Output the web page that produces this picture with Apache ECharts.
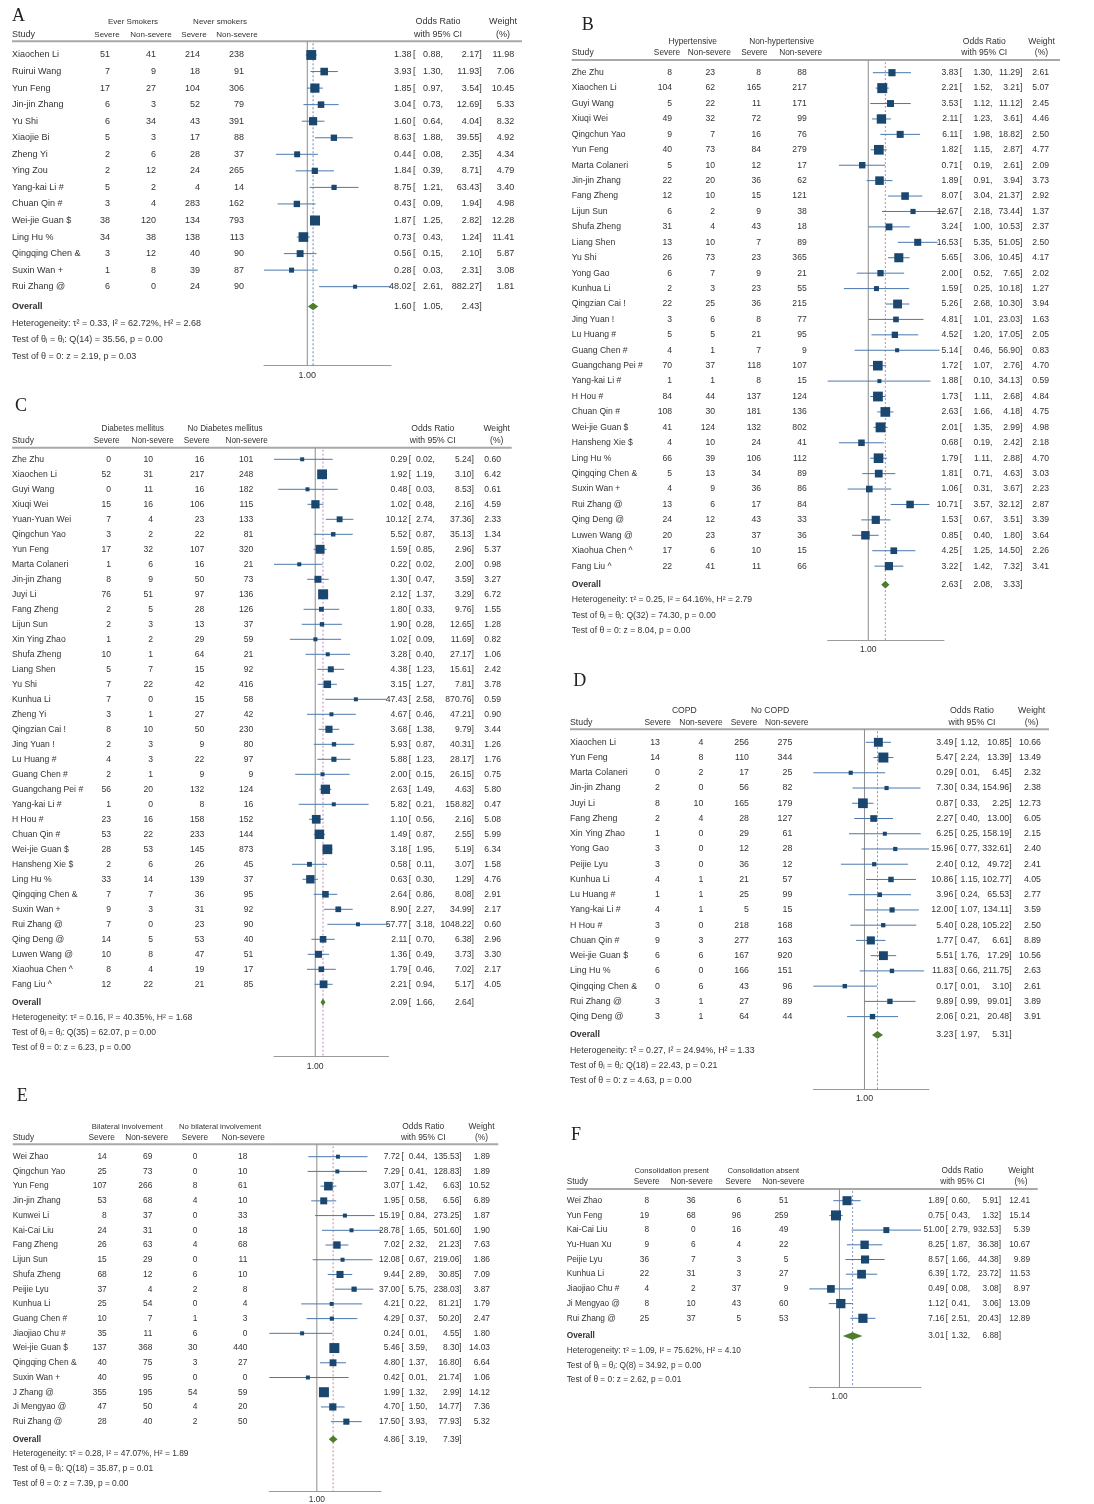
<!DOCTYPE html>
<html>
<head>
<meta charset="utf-8">
<script src="https://cdn.jsdelivr.net/npm/echarts@6/dist/echarts.min.js"></script>
<style>
  html, body { margin: 0; padding: 0; background: #ffffff; }
  #chart { width: 1094px; height: 1504px; }
</style>
</head>
<body>
<div id="chart"></div>
<script>
// ===================== Panel A: smoking =====================
const groupsA = ['Ever Smokers', 'Never smokers'];
const studiesA = ['Xiaochen Li', 'Ruirui Wang', 'Yun Feng', 'Jin-jin Zhang', 'Yu Shi', 'Xiaojie Bi', 'Zheng Yi', 'Ying Zou',
  'Yang-kai Li #', 'Chuan Qin #', 'Wei-jie Guan $', 'Ling Hu %', 'Qingqing Chen &', 'Suxin Wan +', 'Rui Zhang @'];
const sevExpA = [51, 7, 17, 6, 6, 5, 2, 2, 5, 3, 38, 34, 3, 1, 6];
const nonExpA = [41, 9, 27, 3, 34, 3, 6, 12, 2, 4, 120, 38, 12, 8, 0];
const sevUnA = [214, 18, 104, 52, 43, 17, 28, 24, 4, 283, 134, 138, 40, 39, 24];
const nonUnA = [238, 91, 306, 79, 391, 88, 37, 265, 14, 162, 793, 113, 90, 87, 90];
const orA = [1.38, 3.93, 1.85, 3.04, 1.60, 8.63, 0.44, 1.84, 8.75, 0.43, 1.87, 0.73, 0.56, 0.28, 48.02];
const loA = [0.88, 1.30, 0.97, 0.73, 0.64, 1.88, 0.08, 0.39, 1.21, 0.09, 1.25, 0.43, 0.15, 0.03, 2.61];
const hiA = [2.17, 11.93, 3.54, 12.69, 4.04, 39.55, 2.35, 8.71, 63.43, 1.94, 2.82, 1.24, 2.10, 2.31, 882.27];
const weightA = [11.98, 7.06, 10.45, 5.33, 8.32, 4.92, 4.34, 4.79, 3.40, 4.98, 12.28, 11.41, 5.87, 3.08, 1.81];
const overallA = [1.60, 1.05, 2.43];
const statsA = ['Heterogeneity: τ² = 0.33, I² = 62.72%, H² = 2.68', 'Test of θᵢ = θⱼ: Q(14) = 35.56, p = 0.00', 'Test of θ = 0: z = 2.19, p = 0.03'];

// ===================== Panel B: hypertension =====================
const groupsB = ['Hypertensive', 'Non-hypertensive'];
const studiesB = ['Zhe Zhu', 'Xiaochen Li', 'Guyi Wang', 'Xiuqi Wei', 'Qingchun Yao', 'Yun Feng', 'Marta Colaneri', 'Jin-jin Zhang',
  'Fang Zheng', 'Lijun Sun', 'Shufa Zheng', 'Liang Shen', 'Yu Shi', 'Yong Gao', 'Kunhua Li', 'Qingzian Cai !', 'Jing Yuan !',
  'Lu Huang #', 'Guang Chen #', 'Guangchang Pei #', 'Yang-kai Li #', 'H Hou #', 'Chuan Qin #', 'Wei-jie Guan $', 'Hansheng Xie $',
  'Ling Hu %', 'Qingqing Chen &', 'Suxin Wan +', 'Rui Zhang @', 'Qing Deng @', 'Luwen Wang @', 'Xiaohua Chen ^', 'Fang Liu ^'];
const sevExpB = [8, 104, 5, 49, 9, 40, 5, 22, 12, 6, 31, 13, 26, 6, 2, 22, 3, 5, 4, 70, 1, 84, 108, 41, 4, 66, 5, 4, 13, 24, 20, 17, 22];
const nonExpB = [23, 62, 22, 32, 7, 73, 10, 20, 10, 2, 4, 10, 73, 7, 3, 25, 6, 5, 1, 37, 1, 44, 30, 124, 10, 39, 13, 9, 6, 12, 23, 6, 41];
const sevUnB = [8, 165, 11, 72, 16, 84, 12, 36, 15, 9, 43, 7, 23, 9, 23, 36, 8, 21, 7, 118, 8, 137, 181, 132, 24, 106, 34, 36, 17, 43, 37, 10, 11];
const nonUnB = [88, 217, 171, 99, 76, 279, 17, 62, 121, 38, 18, 89, 365, 21, 55, 215, 77, 95, 9, 107, 15, 124, 136, 802, 41, 112, 89, 86, 84, 33, 36, 15, 66];
const orB = [3.83, 2.21, 3.53, 2.11, 6.11, 1.82, 0.71, 1.89, 8.07, 12.67, 3.24, 16.53, 5.65, 2.00, 1.59, 5.26, 4.81,
  4.52, 5.14, 1.72, 1.88, 1.73, 2.63, 2.01, 0.68, 1.79, 1.81, 1.06, 10.71, 1.53, 0.85, 4.25, 3.22];
const loB = [1.30, 1.52, 1.12, 1.23, 1.98, 1.15, 0.19, 0.91, 3.04, 2.18, 1.00, 5.35, 3.06, 0.52, 0.25, 2.68, 1.01,
  1.20, 0.46, 1.07, 0.10, 1.11, 1.66, 1.35, 0.19, 1.11, 0.71, 0.31, 3.57, 0.67, 0.40, 1.25, 1.42];
const hiB = [11.29, 3.21, 11.12, 3.61, 18.82, 2.87, 2.61, 3.94, 21.37, 73.44, 10.53, 51.05, 10.45, 7.65, 10.18, 10.30, 23.03,
  17.05, 56.90, 2.76, 34.13, 2.68, 4.18, 2.99, 2.42, 2.88, 4.63, 3.67, 32.12, 3.51, 1.80, 14.50, 7.32];
const weightB = [2.61, 5.07, 2.45, 4.46, 2.50, 4.77, 2.09, 3.73, 2.92, 1.37, 2.37, 2.50, 4.17, 2.02, 1.27, 3.94, 1.63,
  2.05, 0.83, 4.70, 0.59, 4.84, 4.75, 4.98, 2.18, 4.70, 3.03, 2.23, 2.87, 3.39, 3.64, 2.26, 3.41];
const overallB = [2.63, 2.08, 3.33];
const statsB = ['Heterogeneity: τ² = 0.25, I² = 64.16%, H² = 2.79', 'Test of θᵢ = θⱼ: Q(32) = 74.30, p = 0.00', 'Test of θ = 0: z = 8.04, p = 0.00'];

// ===================== Panel C: diabetes =====================
const groupsC = ['Diabetes mellitus', 'No Diabetes mellitus'];
const studiesC = ['Zhe Zhu', 'Xiaochen Li', 'Guyi Wang', 'Xiuqi Wei', 'Yuan-Yuan Wei', 'Qingchun Yao', 'Yun Feng', 'Marta Colaneri',
  'Jin-jin Zhang', 'Juyi Li', 'Fang Zheng', 'Lijun Sun', 'Xin Ying Zhao', 'Shufa Zheng', 'Liang Shen', 'Yu Shi', 'Kunhua Li',
  'Zheng Yi', 'Qingzian Cai !', 'Jing Yuan !', 'Lu Huang #', 'Guang Chen #', 'Guangchang Pei #', 'Yang-kai Li #', 'H Hou #',
  'Chuan Qin #', 'Wei-jie Guan $', 'Hansheng Xie $', 'Ling Hu %', 'Qingqing Chen &', 'Suxin Wan +', 'Rui Zhang @', 'Qing Deng @',
  'Luwen Wang @', 'Xiaohua Chen ^', 'Fang Liu ^'];
const sevExpC = [0, 52, 0, 15, 7, 3, 17, 1, 8, 76, 2, 2, 1, 10, 5, 7, 7, 3, 8, 2, 4, 2, 56, 1, 23, 53, 28, 2, 33, 7, 9, 7, 14, 10, 8, 12];
const nonExpC = [10, 31, 11, 16, 4, 2, 32, 6, 9, 51, 5, 3, 2, 1, 7, 22, 0, 1, 10, 3, 3, 1, 20, 0, 16, 22, 53, 6, 14, 7, 3, 0, 5, 8, 4, 22];
const sevUnC = [16, 217, 16, 106, 23, 22, 107, 16, 50, 97, 28, 13, 29, 64, 15, 42, 15, 27, 50, 9, 22, 9, 132, 8, 158, 233, 145, 26, 139, 36, 31, 23, 53, 47, 19, 21];
const nonUnC = [101, 248, 182, 115, 133, 81, 320, 21, 73, 136, 126, 37, 59, 21, 92, 416, 58, 42, 230, 80, 97, 9, 124, 16, 152, 144, 873, 45, 37, 95, 92, 90, 40, 51, 17, 85];
const orC = [0.29, 1.92, 0.48, 1.02, 10.12, 5.52, 1.59, 0.22, 1.30, 2.12, 1.80, 1.90, 1.02, 3.28, 4.38, 3.15, 47.43, 4.67,
  3.68, 5.93, 5.88, 2.00, 2.63, 5.82, 1.10, 1.49, 3.18, 0.58, 0.63, 2.64, 8.90, 57.77, 2.11, 1.36, 1.79, 2.21];
const loC = [0.02, 1.19, 0.03, 0.48, 2.74, 0.87, 0.85, 0.02, 0.47, 1.37, 0.33, 0.28, 0.09, 0.40, 1.23, 1.27, 2.58, 0.46,
  1.38, 0.87, 1.23, 0.15, 1.49, 0.21, 0.56, 0.87, 1.95, 0.11, 0.30, 0.86, 2.27, 3.18, 0.70, 0.49, 0.46, 0.94];
const hiC = [5.24, 3.10, 8.53, 2.16, 37.36, 35.13, 2.96, 2.00, 3.59, 3.29, 9.76, 12.65, 11.69, 27.17, 15.61, 7.81, 870.76, 47.21,
  9.79, 40.31, 28.17, 26.15, 4.63, 158.82, 2.16, 2.55, 5.19, 3.07, 1.29, 8.08, 34.99, 1048.22, 6.38, 3.73, 7.02, 5.17];
const weightC = [0.60, 6.42, 0.61, 4.59, 2.33, 1.34, 5.37, 0.98, 3.27, 6.72, 1.55, 1.28, 0.82, 1.06, 2.42, 3.78, 0.59, 0.90,
  3.44, 1.26, 1.76, 0.75, 5.80, 0.47, 5.08, 5.99, 6.34, 1.58, 4.76, 2.91, 2.17, 0.60, 2.96, 3.30, 2.17, 4.05];
const overallC = [2.09, 1.66, 2.64];
const statsC = ['Heterogeneity: τ² = 0.16, I² = 40.35%, H² = 1.68', 'Test of θᵢ = θⱼ: Q(35) = 62.07, p = 0.00', 'Test of θ = 0: z = 6.23, p = 0.00'];

// ===================== Panel D: COPD =====================
const groupsD = ['COPD', 'No COPD'];
const studiesD = ['Xiaochen Li', 'Yun Feng', 'Marta Colaneri', 'Jin-jin Zhang', 'Juyi Li', 'Fang Zheng', 'Xin Ying Zhao', 'Yong Gao',
  'Peijie Lyu', 'Kunhua Li', 'Lu Huang #', 'Yang-kai Li #', 'H Hou #', 'Chuan Qin #', 'Wei-jie Guan $', 'Ling Hu %',
  'Qingqing Chen &', 'Rui Zhang @', 'Qing Deng @'];
const sevExpD = [13, 14, 0, 2, 8, 2, 1, 3, 3, 4, 1, 4, 3, 9, 6, 6, 0, 3, 3];
const nonExpD = [4, 8, 2, 0, 10, 4, 0, 0, 0, 1, 1, 1, 0, 3, 6, 0, 6, 1, 1];
const sevUnD = [256, 110, 17, 56, 165, 28, 29, 12, 36, 21, 25, 5, 218, 277, 167, 166, 43, 27, 64];
const nonUnD = [275, 344, 25, 82, 179, 127, 61, 28, 12, 57, 99, 15, 168, 163, 920, 151, 96, 89, 44];
const orD = [3.49, 5.47, 0.29, 7.30, 0.87, 2.27, 6.25, 15.96, 2.40, 10.86, 3.96, 12.00, 5.40, 1.77, 5.51, 11.83, 0.17, 9.89, 2.06];
const loD = [1.12, 2.24, 0.01, 0.34, 0.33, 0.40, 0.25, 0.77, 0.12, 1.15, 0.24, 1.07, 0.28, 0.47, 1.76, 0.66, 0.01, 0.99, 0.21];
const hiD = [10.85, 13.39, 6.45, 154.96, 2.25, 13.00, 158.19, 332.61, 49.72, 102.77, 65.53, 134.11, 105.22, 6.61, 17.29, 211.75, 3.10, 99.01, 20.48];
const weightD = [10.66, 13.49, 2.32, 2.38, 12.73, 6.05, 2.15, 2.40, 2.41, 4.05, 2.77, 3.59, 2.50, 8.89, 10.56, 2.63, 2.61, 3.89, 3.91];
const overallD = [3.23, 1.97, 5.31];
const statsD = ['Heterogeneity: τ² = 0.27, I² = 24.94%, H² = 1.33', 'Test of θᵢ = θⱼ: Q(18) = 22.43, p = 0.21', 'Test of θ = 0: z = 4.63, p = 0.00'];

// ===================== Panel E: bilateral involvement =====================
const groupsE = ['Bilateral involvement', 'No bilateral involvement'];
const studiesE = ['Wei Zhao', 'Qingchun Yao', 'Yun Feng', 'Jin-jin Zhang', 'Kunwei Li', 'Kai-Cai Liu', 'Fang Zheng', 'Lijun Sun',
  'Shufa Zheng', 'Peijie Lyu', 'Kunhua Li', 'Guang Chen #', 'Jiaojiao Chu #', 'Wei-jie Guan $', 'Qingqing Chen &', 'Suxin Wan +',
  'J Zhang @', 'Ji Mengyao @', 'Rui Zhang @'];
const sevExpE = [14, 25, 107, 53, 8, 24, 26, 15, 68, 37, 25, 10, 35, 137, 40, 40, 355, 47, 28];
const nonExpE = [69, 73, 266, 68, 37, 31, 63, 29, 12, 4, 54, 7, 11, 368, 75, 95, 195, 50, 40];
const sevUnE = [0, 0, 8, 4, 0, 0, 4, 0, 6, 2, 0, 1, 6, 30, 3, 0, 54, 4, 2];
const nonUnE = [18, 10, 61, 10, 33, 18, 68, 11, 10, 8, 4, 3, 0, 440, 27, 0, 59, 20, 50];
const orE = [7.72, 7.29, 3.07, 1.95, 15.19, 28.78, 7.02, 12.08, 9.44, 37.00, 4.21, 4.29, 0.24, 5.46, 4.80, 0.42, 1.99, 4.70, 17.50];
const loE = [0.44, 0.41, 1.42, 0.58, 0.84, 1.65, 2.32, 0.67, 2.89, 5.75, 0.22, 0.37, 0.01, 3.59, 1.37, 0.01, 1.32, 1.50, 3.93];
const hiE = [135.53, 128.83, 6.63, 6.56, 273.25, 501.60, 21.23, 219.06, 30.85, 238.03, 81.21, 50.20, 4.55, 8.30, 16.80, 21.74, 2.99, 14.77, 77.93];
const weightE = [1.89, 1.89, 10.52, 6.89, 1.87, 1.90, 7.63, 1.86, 7.09, 3.87, 1.79, 2.47, 1.80, 14.03, 6.64, 1.06, 14.12, 7.36, 5.32];
const overallE = [4.86, 3.19, 7.39];
const statsE = ['Heterogeneity: τ² = 0.28, I² = 47.07%, H² = 1.89', 'Test of θᵢ = θⱼ: Q(18) = 35.87, p = 0.01', 'Test of θ = 0: z = 7.39, p = 0.00'];

// ===================== Panel F: consolidation =====================
const groupsF = ['Consolidation present', 'Consolidation absent'];
const studiesF = ['Wei Zhao', 'Yun Feng', 'Kai-Cai Liu', 'Yu-Huan Xu', 'Peijie Lyu', 'Kunhua Li', 'Jiaojiao Chu #', 'Ji Mengyao @', 'Rui Zhang @'];
const sevExpF = [8, 19, 8, 9, 36, 22, 4, 8, 25];
const nonExpF = [36, 68, 0, 6, 7, 31, 2, 10, 37];
const sevUnF = [6, 96, 16, 4, 3, 3, 37, 43, 5];
const nonUnF = [51, 259, 49, 22, 5, 27, 9, 60, 53];
const orF = [1.89, 0.75, 51.00, 8.25, 8.57, 6.39, 0.49, 1.12, 7.16];
const loF = [0.60, 0.43, 2.79, 1.87, 1.66, 1.72, 0.08, 0.41, 2.51];
const hiF = [5.91, 1.32, 932.53, 36.38, 44.38, 23.72, 3.08, 3.06, 20.43];
const weightF = [12.41, 15.14, 5.39, 10.67, 9.89, 11.53, 8.97, 13.09, 12.89];
const overallF = [3.01, 1.32, 6.88];
const statsF = ['Heterogeneity: τ² = 1.09, I² = 75.62%, H² = 4.10', 'Test of θᵢ = θⱼ: Q(8) = 34.92, p = 0.00', 'Test of θ = 0: z = 2.62, p = 0.01'];

// ===================== page layout (pixels) =====================
const layoutA = { fs: 9, gfs: 8, sfs: 8, letterX: 12, letterY: 16, studyX: 12, h1Y: 21.3, h2Y: 34.7,
  grpX: [133, 220], subX: [107, 151, 194, 237], orHeadX: 438, wtHeadX: 503, ruleY: 41.3, ruleX2: 522,
  colX: [110, 156, 200, 244], orX: 411.5, loX: 443, hiX: 481.7, wtX: 514.3,
  y0: 55, dy: 16.55, axisY: 365.7, plotL: 264, plotR: 391, dash: '#5f86cc' };
const layoutB = { fs: 8.6, gfs: 8.3, sfs: 8.3, letterX: 581.7, letterY: 25, studyX: 571.7, h1Y: 41.7, h2Y: 52.3,
  grpX: [692.7, 781.7], subX: [667, 709.3, 754.3, 800.7], orHeadX: 984.3, wtHeadX: 1041.5, ruleY: 60, ruleX2: 1060,
  colX: [672, 715, 761, 806.7], orX: 958.3, loX: 992.5, hiX: 1022.3, wtX: 1049,
  y0: 72.7, dy: 15.42, axisY: 640, plotL: 827.7, plotR: 944, dash: '#c98aa6' };
const layoutC = { fs: 8.6, gfs: 8.2, sfs: 8.2, letterX: 15, letterY: 406.3, studyX: 12, h1Y: 429, h2Y: 441,
  grpX: [132.7, 225], subX: [106.7, 152.7, 196.7, 246.7], orHeadX: 432.7, wtHeadX: 496.7, ruleY: 447.7, ruleX2: 511.7,
  colX: [111, 153, 204.3, 253.3], orX: 407.3, loX: 435, hiX: 474, wtX: 501,
  y0: 459.3, dy: 15.0, axisY: 1056.7, plotL: 274, plotR: 388.5, dash: '#c088c0' };
const layoutD = { fs: 8.8, gfs: 8.6, sfs: 8.4, letterX: 573.3, letterY: 681.7, studyX: 570, h1Y: 710.7, h2Y: 722.3,
  grpX: [684.3, 770], subX: [657.7, 701, 744, 786.7], orHeadX: 972, wtHeadX: 1031.7, ruleY: 729.3, ruleX2: 1049,
  colX: [660, 703.3, 749, 792.3], orX: 953.3, loX: 980, hiX: 1011.7, wtX: 1041,
  y0: 742.3, dy: 15.24, axisY: 1089, plotL: 813.3, plotR: 929, dash: '#8095c8' };
const layoutE = { fs: 8.4, gfs: 7.7, sfs: 8.3, letterX: 16.7, letterY: 1096, studyX: 12.7, h1Y: 1126.7, h2Y: 1137.3,
  grpX: [127.3, 220], subX: [101.7, 146.7, 195, 243.3], orHeadX: 423.3, wtHeadX: 481.5, ruleY: 1144.3, ruleX2: 498.3,
  colX: [106.7, 152.3, 197.3, 247.3], orX: 400, loX: 427.3, hiX: 461.7, wtX: 490,
  y0: 1156.7, dy: 14.72, axisY: 1491, plotL: 269.3, plotR: 381, dash: '#c98aa6' };
const layoutF = { fs: 8.3, gfs: 7.7, sfs: 8.2, letterX: 571, letterY: 1135.5, studyX: 566.7, h1Y: 1170.7, h2Y: 1181.7,
  grpX: [671.7, 763.3], subX: [646.7, 691.7, 738.3, 783.3], orHeadX: 962.3, wtHeadX: 1021, ruleY: 1189, ruleX2: 1037.7,
  colX: [649, 695.7, 741, 788.3], orX: 944.3, loX: 970, hiX: 1001, wtX: 1030,
  y0: 1200.7, dy: 14.7, axisY: 1387.3, plotL: 809.3, plotR: 921, dash: '#8a9ac4' };

const OVERALL_GAP = 0.2;   // extra row spacing before the pooled estimate
const TEXT = '#333333';
const NAVY = '#1a476f';
const CI_LINE = '#4a78ad';
const GREEN = '#4f7d2c';
const REF_LINE = '#8c8c8c';
const RULE = '#a8a8a8';
const SANS = '"Liberation Sans", Arial, "DejaVu Sans", sans-serif';
const SERIF = '"Liberation Serif", "DejaVu Serif", serif';

const panels = [
  { key: 'A', groups: groupsA, studies: studiesA, counts: [sevExpA, nonExpA, sevUnA, nonUnA], or: orA, lo: loA, hi: hiA, weight: weightA, overall: overallA, stats: statsA, layout: layoutA },
  { key: 'B', groups: groupsB, studies: studiesB, counts: [sevExpB, nonExpB, sevUnB, nonUnB], or: orB, lo: loB, hi: hiB, weight: weightB, overall: overallB, stats: statsB, layout: layoutB },
  { key: 'C', groups: groupsC, studies: studiesC, counts: [sevExpC, nonExpC, sevUnC, nonUnC], or: orC, lo: loC, hi: hiC, weight: weightC, overall: overallC, stats: statsC, layout: layoutC },
  { key: 'D', groups: groupsD, studies: studiesD, counts: [sevExpD, nonExpD, sevUnD, nonUnD], or: orD, lo: loD, hi: hiD, weight: weightD, overall: overallD, stats: statsD, layout: layoutD },
  { key: 'E', groups: groupsE, studies: studiesE, counts: [sevExpE, nonExpE, sevUnE, nonUnE], or: orE, lo: loE, hi: hiE, weight: weightE, overall: overallE, stats: statsE, layout: layoutE },
  { key: 'F', groups: groupsF, studies: studiesF, counts: [sevExpF, nonExpF, sevUnF, nonUnF], or: orF, lo: loF, hi: hiF, weight: weightF, overall: overallF, stats: statsF, layout: layoutF }
];

function font(size, bold) {
  return (bold ? 'bold ' : '') + size + 'px ' + SANS;
}

function textEl(s, x, y, align, size, bold, z2) {
  return {
    type: 'text', z2: z2 || 20,
    style: {
      text: s, x: x, y: y, fill: TEXT, font: font(size, bold),
      align: align, textAlign: align, verticalAlign: 'middle', textVerticalAlign: 'middle'
    }
  };
}

// one custom renderer per panel: table row text, CI whisker, weighted square, pooled diamond
function makeRenderer(p) {
  const L = p.layout;
  const n = p.studies.length;
  const wmax = Math.max.apply(null, p.weight);
  function ciCells(out, o, lo, hi, y) {
    out.push(textEl(o.toFixed(2), L.orX, y, 'right', L.fs));
    out.push(textEl('[', L.orX + 1.5, y, 'left', L.fs));
    out.push(textEl(lo.toFixed(2) + ',', L.loX, y, 'right', L.fs));
    out.push(textEl(hi.toFixed(2) + ']', L.hiX, y, 'right', L.fs));
  }
  return function (params, api) {
    const i = params.dataIndex;
    const row = api.value(1);
    const c = api.coord([api.value(0), row]);
    const a = api.coord([api.value(2), row]);
    const b = api.coord([api.value(3), row]);
    const y = c[1];
    const ch = [];
    if (i < n) {
      ch.push(textEl(p.studies[i], L.studyX, y, 'left', L.fs));
      p.counts.forEach(function (col, k) {
        ch.push(textEl(String(col[i]), L.colX[k], y, 'right', L.fs));
      });
      ch.push({ type: 'line', z2: 5, shape: { x1: a[0], y1: y, x2: b[0], y2: y }, style: { stroke: CI_LINE, lineWidth: 1 } });
      const side = Math.max(4, 10 * Math.sqrt(p.weight[i] / wmax));
      ch.push({ type: 'rect', z2: 10, shape: { x: c[0] - side / 2, y: y - side / 2, width: side, height: side }, style: { fill: NAVY } });
      ciCells(ch, p.or[i], p.lo[i], p.hi[i], y);
      ch.push(textEl(p.weight[i].toFixed(2), L.wtX, y, 'right', L.fs));
    } else {
      const cs = params.coordSys;
      const one = api.coord([1, row])[0];
      ch.push({ type: 'line', z2: 1, shape: { x1: one, y1: cs.y, x2: one, y2: cs.y + cs.height }, style: { stroke: REF_LINE, lineWidth: 1 } });
      ch.push({ type: 'line', z2: 2, shape: { x1: c[0], y1: cs.y + 2, x2: c[0], y2: cs.y + cs.height }, style: { stroke: L.dash, lineWidth: 1, lineDash: [2, 2] } });
      ch.push({ type: 'polygon', z2: 12, shape: { points: [[a[0], y], [c[0], y - 3.8], [b[0], y], [c[0], y + 3.8]] }, style: { fill: GREEN } });
      ch.push(textEl('Overall', L.studyX, y, 'left', L.fs, true));
      ciCells(ch, p.overall[0], p.overall[1], p.overall[2], y);
      p.stats.forEach(function (s, k) {
        ch.push(textEl(s, L.studyX, api.coord([1, row + k + 1])[1], 'left', L.fs));
      });
    }
    return { type: 'group', children: ch };
  };
}

const grids = [], xAxes = [], yAxes = [], series = [], graphics = [];

panels.forEach(function (p, k) {
  const L = p.layout;
  const n = p.studies.length;
  grids.push({ left: L.plotL, width: L.plotR - L.plotL, top: L.ruleY, height: L.axisY - L.ruleY, containLabel: false });
  xAxes.push({
    type: 'log', logBase: 10, gridIndex: k, position: 'bottom',
    min: Math.min.apply(null, p.lo), max: Math.max.apply(null, p.hi),
    axisLine: { show: true, onZero: false, lineStyle: { color: '#9a9a9a', width: 1 } },
    axisTick: { show: false },
    splitLine: { show: false },
    axisLabel: {
      margin: 5, fontSize: L.fs, color: TEXT, fontFamily: SANS,
      formatter: function (v) { return Math.abs(v - 1) < 1e-6 ? '1.00' : ''; }
    }
  });
  yAxes.push({
    type: 'value', gridIndex: k, inverse: true, show: false,
    min: (L.ruleY - L.y0) / L.dy, max: (L.axisY - L.y0) / L.dy
  });
  const rows = p.or.map(function (o, i) { return [o, i, p.lo[i], p.hi[i]]; });
  rows.push([p.overall[0], n + OVERALL_GAP, p.overall[1], p.overall[2]]);
  series.push({
    type: 'custom', xAxisIndex: k, yAxisIndex: k, silent: true,
    encode: { x: [0, 2, 3], y: 1 },
    data: rows,
    renderItem: makeRenderer(p)
  });

  // panel letter, column headers and header rule
  graphics.push({ type: 'text', x: L.letterX, y: L.letterY,
    style: { text: p.key, font: '18px ' + SERIF, fill: '#222', align: 'left', textAlign: 'left', verticalAlign: 'middle', textVerticalAlign: 'middle' } });
  function hText(s, x, y, align, size) {
    graphics.push({ type: 'text', x: x, y: y,
      style: { text: s, font: font(size), fill: TEXT, align: align, textAlign: align, verticalAlign: 'middle', textVerticalAlign: 'middle' } });
  }
  hText(p.groups[0], L.grpX[0], L.h1Y, 'center', L.gfs);
  hText(p.groups[1], L.grpX[1], L.h1Y, 'center', L.gfs);
  hText('Odds Ratio', L.orHeadX, L.h1Y, 'center', L.fs);
  hText('Weight', L.wtHeadX, L.h1Y, 'center', L.fs);
  hText('Study', L.studyX, L.h2Y, 'left', L.fs);
  ['Severe', 'Non-severe', 'Severe', 'Non-severe'].forEach(function (s, j) { hText(s, L.subX[j], L.h2Y, 'center', L.sfs); });
  hText('with 95% CI', L.orHeadX, L.h2Y, 'center', L.fs);
  hText('(%)', L.wtHeadX, L.h2Y, 'center', L.fs);
  graphics.push({ type: 'line', shape: { x1: L.studyX, y1: L.ruleY, x2: L.ruleX2, y2: L.ruleY }, style: { stroke: RULE, lineWidth: 2 } });
});

const chart = echarts.init(document.getElementById('chart'), null, { renderer: 'canvas' });
chart.setOption({
  backgroundColor: '#ffffff',
  animation: false,
  grid: grids,
  xAxis: xAxes,
  yAxis: yAxes,
  series: series,
  graphic: { elements: graphics }
});
</script>
</body>
</html>
